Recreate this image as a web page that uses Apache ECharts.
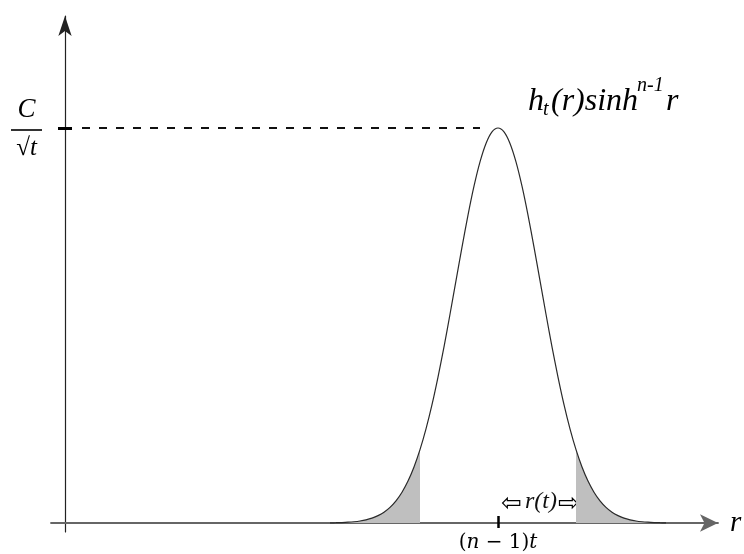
<!DOCTYPE html>
<html>
<head>
<meta charset="utf-8">
<script src="https://cdn.jsdelivr.net/npm/echarts@6/dist/echarts.min.js"></script>
<style>html,body{margin:0;padding:0;background:#fff;}#chart{width:744px;height:554px;}</style>
</head>
<body>
<div id="chart"></div>
<script>
// radial coordinate samples (r) and the curve height h_t(r) sinh^{n-1} r, peak normalised to C/sqrt(t) = 1
const rValues = [265,271,277,283,289,295,301,307,313,319,325,331,337,343,349,355,361,367,373,379,385,391,397,403,409,415,421,427,433,
                 439,445,451,457,463,469,475,481,487,493,499,505,511,517,523,529,535,541,547,553,559,565,571,577,583,589,595,601];
const density = [0.0004,0.0007,0.0012,0.0020,0.0032,0.0051,0.0080,0.0123,0.0186,0.0274,0.0396,0.0561,0.0780,0.1062,0.1419,0.1856,
                 0.2381,0.2994,0.3692,0.4461,0.5285,0.6137,0.6986,0.7795,0.8526,0.9142,0.9609,0.9901,1.0000,
                 0.9901,0.9609,0.9142,0.8526,0.7795,0.6986,0.6137,0.5285,0.4461,0.3692,0.2994,0.2381,0.1856,0.1419,0.1062,
                 0.0780,0.0561,0.0396,0.0274,0.0186,0.0123,0.0080,0.0051,0.0032,0.0020,0.0012,0.0007,0.0004];
const peakR = 433;            // (n-1)t
const peakLevel = 1;          // C / sqrt(t)
const leftTailEnd = 355;
const rightTailStart = 511;
const dashStart = 17;
const dashEnd = 415;
const xTickLabels = ['(n − 1)t'];
const yTickLabels = ['C/√t'];

const curve = rValues.map((r, i) => [r, density[i]]);
const leftTail = curve.filter(p => p[0] <= leftTailEnd);
const rightTail = curve.filter(p => p[0] >= rightTailStart);

const serif = '"Liberation Serif", "DejaVu Serif", serif';
const dserif = '"DejaVu Serif", serif';
const chart = echarts.init(document.getElementById('chart'), null, {renderer: 'canvas'});

chart.setOption({
  animation: false,
  backgroundColor: '#fff',
  grid: {left: 51, right: 26, top: 16, bottom: 22, containLabel: false, outerBoundsMode: 'none'},
  xAxis: {
    type: 'value', min: -14, max: 653,
    name: 'r', nameLocation: 'end', nameGap: 12,
    nameTextStyle: {fontFamily: serif, fontStyle: 'italic', fontSize: 29, color: '#000', padding: [0, 0, 5, 0]},
    axisLine: {onZero: true, symbol: ['none', 'arrow'], symbolSize: [13, 18], lineStyle: {color: '#666', width: 1.8}},
    axisTick: {show: false},
    splitLine: {show: false},
    axisLabel: {
      customValues: [peakR], margin: 1,
      formatter: () => '{p|(}{i|n}{p| − 1)}{i|t}',
      rich: {
        p: {fontFamily: dserif, fontSize: 20, color: '#000'},
        i: {fontFamily: dserif, fontStyle: 'italic', fontSize: 20, color: '#000'}
      }
    }
  },
  yAxis: {
    type: 'value', min: -9 / 395, max: 507 / 395,
    axisLine: {onZero: true, symbol: ['none', 'arrow'], symbolSize: [10, 20], lineStyle: {color: '#222', width: 1.2}},
    axisTick: {show: false},
    splitLine: {show: false},
    axisLabel: {
      customValues: [peakLevel], margin: 9,
      formatter: () => '{n|C}\n{bar| }\n{rad|√}{t|t}',
      rich: {
        n: {fontFamily: serif, fontStyle: 'italic', fontSize: 27, lineHeight: 38, color: '#000', align: 'center'},
        bar: {width: 31, height: 1.6, lineHeight: 2, fontSize: 1, backgroundColor: '#000', align: 'center'},
        rad: {fontFamily: serif, fontSize: 25, lineHeight: 34, color: '#000', align: 'center'},
        t: {fontFamily: serif, fontStyle: 'italic', fontSize: 25, lineHeight: 34, color: '#000', align: 'center'}
      }
    }
  },
  series: [
    {
      type: 'line', data: leftTail, smooth: 0.3, showSymbol: false, silent: true,
      lineStyle: {width: 0}, areaStyle: {color: '#bfbfbf', opacity: 1}, z: 1
    },
    {
      type: 'line', data: rightTail, smooth: 0.3, showSymbol: false, silent: true,
      lineStyle: {width: 0}, areaStyle: {color: '#bfbfbf', opacity: 1}, z: 1
    },
    {
      type: 'line', data: curve, smooth: 0.3, showSymbol: false, silent: true,
      lineStyle: {color: '#2a2a2a', width: 1.2}, z: 3,
      markLine: {
        silent: true, symbol: ['none', 'none'], label: {show: false}, animation: false,
        emphasis: {disabled: true},
        data: [
          [{coord: [dashStart, peakLevel], lineStyle: {type: [8, 9], width: 2, color: '#111'}},
           {coord: [dashEnd, peakLevel], lineStyle: {type: [8, 9], width: 2, color: '#111'}}],
          [{coord: [-7, peakLevel], lineStyle: {type: 'solid', width: 3, color: '#000'}},
           {coord: [7, peakLevel], lineStyle: {type: 'solid', width: 3, color: '#000'}}],
          [{coord: [peakR, -5 / 395], lineStyle: {type: 'solid', width: 2.5, color: '#000'}},
           {coord: [peakR, 7 / 395], lineStyle: {type: 'solid', width: 2.5, color: '#000'}}]
        ]
      }
    }
  ],
  graphic: [
    {type: 'text', x: 528, y: 101.2, style: {text: 'h', font: 'italic 32px ' + serif, fill: '#000', verticalAlign: 'middle'}},
    {type: 'text', x: 543, y: 109.3, style: {text: 't', font: 'italic 20px ' + serif, fill: '#000', verticalAlign: 'middle'}},
    {type: 'text', x: 551, y: 101.2, style: {text: '(r)sinh', font: 'italic 32px ' + serif, fill: '#000', verticalAlign: 'middle'}},
    {type: 'text', x: 637, y: 85.3, style: {text: 'n-1', font: 'italic 20px ' + serif, fill: '#000', verticalAlign: 'middle'}},
    {type: 'text', x: 666, y: 101.2, style: {text: 'r', font: 'italic 32px ' + serif, fill: '#000', verticalAlign: 'middle'}},
    {type: 'text', x: 501, y: 504, style: {text: '⇦', font: '25px "DejaVu Sans"', fill: '#000', verticalAlign: 'middle'}},
    {type: 'text', x: 525, y: 502, style: {text: 'r(t)', font: 'italic 24px ' + serif, fill: '#111', verticalAlign: 'middle'}},
    {type: 'text', x: 558, y: 504, style: {text: '⇨', font: '25px "DejaVu Sans"', fill: '#000', verticalAlign: 'middle'}}
  ]
});
</script>
</body>
</html>
